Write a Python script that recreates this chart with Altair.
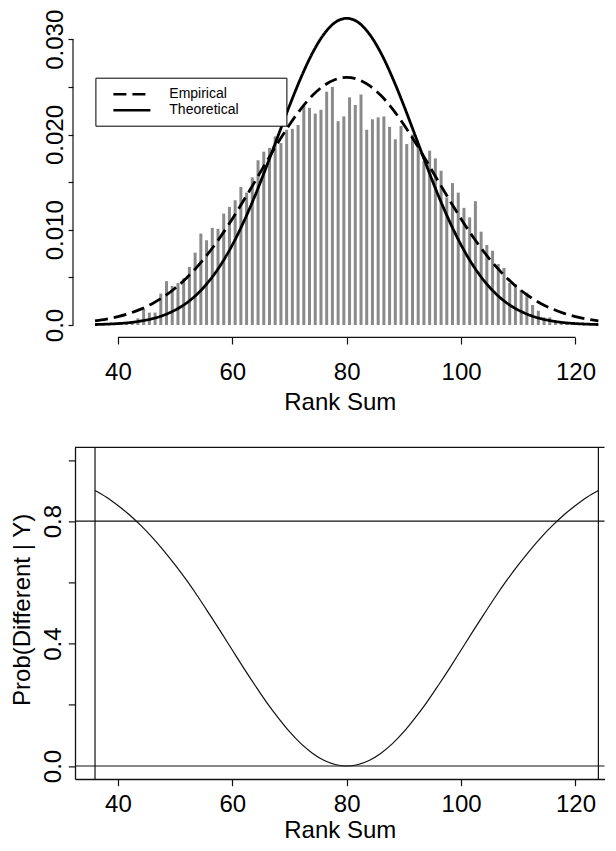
import altair as alt
import pandas as pd

# ---------------- data ----------------
bar_rank_sum = [35.5, 36.5, 37.5, 38.5, 39.5, 40.5, 41.5, 42.5, 43.5, 44.5,
                45.5, 46.5, 47.5, 48.5, 49.5, 50.5, 51.5, 52.5, 53.5, 54.5,
                55.5, 56.5, 57.5, 58.5, 59.5, 60.5, 61.5, 62.5, 63.5, 64.5,
                65.5, 66.5, 67.5, 68.5, 69.5, 70.5, 71.5, 72.5, 73.5, 74.5,
                75.5, 76.5, 77.5, 78.5, 79.5, 80.5, 81.5, 82.5, 83.5, 84.5,
                85.5, 86.5, 87.5, 88.5, 89.5, 90.5, 91.5, 92.5, 93.5, 94.5,
                95.5, 96.5, 97.5, 98.5, 99.5, 100.5, 101.5, 102.5, 103.5, 104.5,
                105.5, 106.5, 107.5, 108.5, 109.5, 110.5, 111.5, 112.5, 113.5, 114.5,
                115.5, 116.5, 117.5, 118.5, 119.5, 120.5, 121.5, 122.5, 123.5]
bar_density = [0.00002, 0.00003, 0.00005, 0.00008, 0.0001, 0.00015, 0.00025, 0.0004, 0.0007, 0.0017,
               0.0013, 0.0013, 0.0033, 0.0046, 0.0041, 0.0044, 0.0049, 0.0061, 0.0076, 0.0096,
               0.0089, 0.0102, 0.0101, 0.0117, 0.0124, 0.0131, 0.0145, 0.0139, 0.0155, 0.0173,
               0.0182, 0.0186, 0.0198, 0.0191, 0.0205, 0.0206, 0.0210, 0.0230, 0.0228, 0.0222,
               0.0226, 0.0245, 0.0250, 0.0214, 0.0219, 0.0239, 0.0231, 0.0242, 0.0205, 0.0216,
               0.0218, 0.0219, 0.0208, 0.0195, 0.0209, 0.0190, 0.0200, 0.0186, 0.0172, 0.0183,
               0.0175, 0.0162, 0.0134, 0.0149, 0.0139, 0.0123, 0.0113, 0.0130, 0.0098, 0.0084,
               0.0078, 0.0064, 0.0060, 0.0044, 0.0043, 0.0037, 0.0034, 0.0021, 0.0015, 0.0008,
               0.0008, 0.0004, 0.0003, 0.0002, 0.00012, 0.00008, 0.00005, 0.00003, 0.00002]

curve_rank_sum = [36, 38, 40, 42, 44, 46, 48, 50, 52, 54, 56, 58, 60, 62, 64, 66, 68, 70, 72, 74, 76, 78,
                  80, 82, 84, 86, 88, 90, 92, 94, 96, 98, 100, 102, 104, 106, 108, 110, 112, 114, 116,
                  118, 120, 122, 124]
empirical_density = [0.00043, 0.00062, 0.00088, 0.00122, 0.00167, 0.00224, 0.00297, 0.00386, 0.00494,
                     0.00621, 0.00767, 0.00932, 0.01114, 0.01309, 0.01511, 0.01716, 0.01916, 0.02103,
                     0.02270, 0.02409, 0.02513, 0.02578, 0.02600, 0.02578, 0.02513, 0.02409, 0.02270,
                     0.02103, 0.01916, 0.01716, 0.01511, 0.01309, 0.01114, 0.00932, 0.00767, 0.00621,
                     0.00494, 0.00386, 0.00297, 0.00224, 0.00167, 0.00122, 0.00088, 0.00062, 0.00043]
theoretical_density = [0.00005, 0.00009, 0.00015, 0.00025, 0.00042, 0.00066, 0.00103, 0.00157, 0.00231,
                       0.00333, 0.00466, 0.00634, 0.00840, 0.01085, 0.01362, 0.01668, 0.01986, 0.02302,
                       0.02597, 0.02854, 0.03052, 0.03178, 0.03220, 0.03178, 0.03052, 0.02854, 0.02597,
                       0.02302, 0.01986, 0.01668, 0.01362, 0.01085, 0.00840, 0.00634, 0.00466, 0.00333,
                       0.00231, 0.00157, 0.00103, 0.00066, 0.00042, 0.00025, 0.00015, 0.00009, 0.00005]

prob_different = [0.900, 0.878, 0.851, 0.821, 0.786, 0.747, 0.704, 0.657, 0.607, 0.553, 0.496, 0.438,
                  0.379, 0.320, 0.263, 0.208, 0.158, 0.112, 0.073, 0.042, 0.019, 0.005, 0.000, 0.005,
                  0.019, 0.042, 0.073, 0.112, 0.158, 0.208, 0.263, 0.320, 0.379, 0.438, 0.496, 0.553,
                  0.607, 0.657, 0.704, 0.747, 0.786, 0.821, 0.851, 0.878, 0.900]

series_names = ["Empirical", "Theoretical"]
x_tick_values = [40, 60, 80, 100, 120]
top_y_tick_values = [0, 0.005, 0.01, 0.015, 0.02, 0.025, 0.03]
bottom_y_tick_values = [0, 0.2, 0.4, 0.6, 0.8, 1.0]
ref_levels = [0.0, 0.8]
ref_rank_sums = [36, 124]

x_domain = [32.5, 125.07]
top_y_domain = [-0.00129, 0.03318]
bottom_y_domain = [-0.0425, 1.041]

# ---------------- tables ----------------
bars_df = pd.DataFrame({"rank_sum": bar_rank_sum, "density": bar_density})
curves_df = pd.concat([
    pd.DataFrame({"rank_sum": curve_rank_sum, "density": empirical_density, "series": series_names[0]}),
    pd.DataFrame({"rank_sum": curve_rank_sum, "density": theoretical_density, "series": series_names[1]}),
])
prob_df = pd.DataFrame({"rank_sum": curve_rank_sum, "prob": prob_different})
hline_df = pd.DataFrame({"prob": ref_levels})
vline_df = pd.DataFrame({"rank_sum": ref_rank_sums})
top_border_df = pd.DataFrame({"prob": [bottom_y_domain[1]]})
xaxis_line_df = pd.DataFrame({"x0": [x_tick_values[0]], "x1": [x_tick_values[-1]]})
yaxis_line_df = pd.DataFrame({"y0": [top_y_tick_values[0]], "y1": [top_y_tick_values[-1]]})

# ---------------- styling ----------------
FONT = "Liberation Sans"
W = 529.5
TOP_H = 328.3
BOT_H = 331.6
INK = "#111111"
# legend line symbol: a 37px stroke; the trailing move-to only widens the legend frame
LEGEND_SYMBOL = "M-2.643,0H2.643M20.14,0"

x_scale = alt.Scale(domain=x_domain, nice=False, zero=False)
top_y_scale = alt.Scale(domain=top_y_domain, nice=False, zero=False)
bot_y_scale = alt.Scale(domain=bottom_y_domain, nice=False, zero=False)

common_axis = dict(grid=False, labelFont=FONT, titleFont=FONT, labelFontSize=24,
                   titleFontSize=24, titleFontWeight="normal", labelColor="black", titleColor="black",
                   tickColor=INK, tickWidth=1.2, labelOverlap=False, labelFlush=False)

top_x_axis = alt.Axis(values=x_tick_values, format="d", tickSize=6.7, labelPadding=16, domain=False,
                      title="Rank Sum", titlePadding=6, **common_axis)
bot_x_axis = alt.Axis(values=x_tick_values, format="d", tickSize=6.7, labelPadding=6.5,
                      domain=True, domainColor=INK, domainWidth=1.3,
                      title="Rank Sum", titlePadding=2, **common_axis)

top_y_axis = alt.Axis(values=top_y_tick_values, domain=False,
                      labelExpr="datum.value == 0 ? '0.0' : (round(datum.value*1000) % 10 == 0 ? format(datum.value, '.3f') : '')",
                      tickSize=5, labelPadding=6, offset=2, labelAngle=270, labelAlign="center",
                      labelBaseline="alphabetic", title=None, **common_axis)

bot_y_axis = alt.Axis(values=bottom_y_tick_values, domain=True, domainColor=INK, domainWidth=1.3,
                      labelExpr="(round(datum.value*10) % 4 == 0) ? format(datum.value, '.1f') : ''",
                      tickSize=6.7, labelPadding=8.3, labelAngle=270, labelAlign="center",
                      labelBaseline="alphabetic", title="Prob(Different | Y)",
                      titleAngle=270, titleAlign="center", titleBaseline="alphabetic",
                      titleX=-45.3, titleY=162, **common_axis)

legend = alt.Legend(title=None, orient="none", legendX=20.4, legendY=68.7, direction="vertical",
                    strokeColor="black", fillColor="white", padding=8, cornerRadius=0,
                    symbolType=LEGEND_SYMBOL, symbolSize=196, symbolStrokeWidth=2.6,
                    symbolStrokeColor="black", labelFont=FONT, labelFontSize=14, labelColor="black",
                    labelOffset=28.9, rowPadding=0, symbolOffset=20)

# ---------------- top panel ----------------
bars = alt.Chart(bars_df).mark_rule(color="#8a8a8a", strokeWidth=3, strokeCap="butt").encode(
    x=alt.X("rank_sum:Q", scale=x_scale, axis=top_x_axis),
    y=alt.Y("density:Q", scale=top_y_scale, axis=top_y_axis),
    y2=alt.datum(0),
)

curves = alt.Chart(curves_df).mark_line(color="black", strokeWidth=2.8, interpolate="monotone").encode(
    x=alt.X("rank_sum:Q"),
    y=alt.Y("density:Q"),
    strokeDash=alt.StrokeDash("series:N",
                              scale=alt.Scale(domain=series_names, range=[[13, 6], [1, 0]]),
                              legend=legend),
)

top_xline = alt.Chart(xaxis_line_df).mark_rule(color=INK, strokeWidth=1.2).encode(
    x=alt.X("x0:Q"), x2="x1:Q", y=alt.value(TOP_H)
)
top_yline = alt.Chart(yaxis_line_df).mark_rule(color=INK, strokeWidth=1.2).encode(
    y=alt.Y("y0:Q"), y2="y1:Q", x=alt.value(-2)
)

top = alt.layer(bars, curves, top_xline, top_yline).properties(width=W, height=TOP_H)

# ---------------- bottom panel ----------------
prob_line = alt.Chart(prob_df).mark_line(color=INK, strokeWidth=1.2, interpolate="monotone").encode(
    x=alt.X("rank_sum:Q", scale=x_scale, axis=bot_x_axis),
    y=alt.Y("prob:Q", scale=bot_y_scale, axis=bot_y_axis),
)
hlines = alt.Chart(hline_df).mark_rule(color=INK, strokeWidth=1.2).encode(y=alt.Y("prob:Q"))
vlines = alt.Chart(vline_df).mark_rule(color=INK, strokeWidth=1.2).encode(x=alt.X("rank_sum:Q"))
top_border = alt.Chart(top_border_df).mark_rule(color=INK, strokeWidth=1.3).encode(y=alt.Y("prob:Q"))

bottom = alt.layer(prob_line, hlines, vlines, top_border).properties(width=W, height=BOT_H)

chart = alt.vconcat(top, bottom, spacing=109.4, bounds="flush").properties(
    padding={"left": 2, "top": 0, "right": 0, "bottom": 0}
).configure(font=FONT).configure_view(stroke="transparent")

chart.save("out.html", embed_options={"renderer": "svg", "actions": False})
